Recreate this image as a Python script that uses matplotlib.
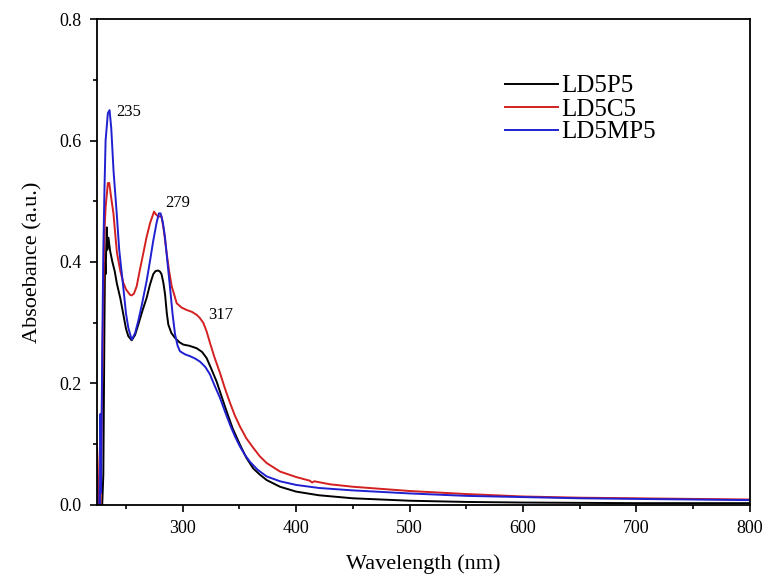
import numpy as np
import matplotlib.pyplot as plt
from matplotlib.ticker import MultipleLocator

# UV-vis absorbance
wl_p5 = [224.5, 229, 230, 231, 231.5, 232, 233, 233.5, 234.5, 236, 238, 240, 242, 245,
         247.6, 250, 252, 255, 258, 261, 264.5, 268.2, 271, 274, 276, 278.4, 280, 281.3,
         283, 284.4, 286, 287.3, 290, 293.2, 297, 300.5, 306, 312.3, 317, 321, 325, 329.9,
         334, 338.7, 344, 350.5, 356, 362.2, 368, 374, 385.8, 400, 420, 450, 500, 550,
         600, 700, 800]
ab_p5 = [0.0, 0.0, 0.05, 0.30, 0.40, 0.38, 0.457, 0.42, 0.44, 0.418, 0.40, 0.385, 0.364, 0.34,
         0.314, 0.29, 0.278, 0.271, 0.28, 0.298, 0.32, 0.341, 0.362, 0.380, 0.385, 0.386, 0.384, 0.380,
         0.365, 0.347, 0.315, 0.297, 0.283, 0.275, 0.268, 0.264, 0.262, 0.258, 0.252, 0.242, 0.225, 0.203,
         0.18, 0.154, 0.126, 0.099, 0.078, 0.060, 0.05, 0.041, 0.030, 0.022, 0.016, 0.011, 0.007, 0.005,
         0.004, 0.003, 0.003]

wl_c5 = [224.4, 225, 225.8, 227.5, 229, 230, 231, 232, 233, 234, 235.2, 237, 238.9, 242, 245,
         247.6, 250, 253.5, 255, 257, 259.4, 262, 265.3, 268, 271.2, 274.7, 276.5, 278.4, 281.3,
         283.5, 285.8, 288, 290.3, 294.7, 299, 303.5, 308, 312.3, 315, 318.1, 321, 324, 328,
         332.9, 337, 341.7, 346, 350.5, 356, 362.2, 368, 374, 385.8, 400, 412, 414, 416, 430,
         450, 500, 550, 600, 650, 700, 750, 800]
ab_c5 = [0.1, 0.07, 0.0, 0.0, 0.2, 0.35, 0.45, 0.49, 0.51, 0.53, 0.53, 0.505, 0.48, 0.415, 0.385,
         0.366, 0.355, 0.346, 0.345, 0.348, 0.36, 0.385, 0.415, 0.44, 0.464, 0.483, 0.478, 0.475, 0.475,
         0.45, 0.415, 0.385, 0.36, 0.332, 0.325, 0.321, 0.318, 0.313, 0.308, 0.30, 0.286, 0.267, 0.243,
         0.217, 0.193, 0.168, 0.147, 0.129, 0.11, 0.094, 0.08, 0.069, 0.055, 0.046, 0.04, 0.037, 0.039, 0.034,
         0.03, 0.023, 0.018, 0.014, 0.012, 0.011, 0.010, 0.009]

wl_mp5 = [224.5, 225, 227, 227.5, 228, 229, 230, 231, 232, 234, 235.5, 237, 239, 241.8, 244,
          247.6, 250, 252, 255, 258, 260.8, 264, 268.2, 271, 274, 277, 279, 280.5, 282.5, 284.4,
          286.5, 288.8, 291, 293.2, 295.5, 297.6, 302, 306.4, 311, 315.2, 320, 324, 328, 332.9,
          337, 341.7, 346, 350.5, 355, 359.3, 366, 374, 385.8, 400, 420, 450, 500, 550, 600,
          650, 700, 750, 800]
ab_mp5 = [0.06, 0.0, 0.0, 0.15, 0.02, 0.25, 0.42, 0.52, 0.6, 0.645, 0.65, 0.62, 0.55, 0.48, 0.42,
          0.358, 0.315, 0.292, 0.272, 0.283, 0.303, 0.33, 0.369, 0.40, 0.435, 0.465, 0.48, 0.48, 0.465, 0.44,
          0.40, 0.358, 0.315, 0.281, 0.262, 0.253, 0.248, 0.245, 0.241, 0.236, 0.227, 0.215, 0.197, 0.176,
          0.155, 0.132, 0.113, 0.096, 0.082, 0.071, 0.058, 0.047, 0.039, 0.033, 0.028, 0.024, 0.019, 0.015, 0.013,
          0.011, 0.010, 0.009, 0.008]

# peak labels: (text, x, y) where the label sits
peak_labels = [('235', 241.8, 0.647), ('279', 284.4, 0.497), ('317', 322.3, 0.313)]

plt.rcParams['font.family'] = 'Liberation Serif'
plt.rcParams['font.size'] = 12

fig = plt.figure(figsize=(7.66, 5.76), dpi=100)
ax = fig.add_axes([0.1266, 0.1233, 0.8524, 0.8437])

ax.plot(wl_p5, ab_p5, color='black', lw=1.4, label='LD5P5')
ax.plot(wl_c5, ab_c5, color='#d42020', lw=1.4, label='LD5C5')
ax.plot(wl_mp5, ab_mp5, color='#2020d0', lw=1.4, label='LD5MP5')

for txt, x, y in peak_labels:
    ax.text(x, y, txt, fontsize=12, va='center', ha='left')

ax.set_xlim(224.4, 800)
ax.set_ylim(0, 0.8)
ax.xaxis.set_major_locator(MultipleLocator(100))
ax.xaxis.set_minor_locator(MultipleLocator(50))
ax.yaxis.set_major_locator(MultipleLocator(0.2))
ax.yaxis.set_minor_locator(MultipleLocator(0.1))
ax.yaxis.set_major_formatter(plt.FormatStrFormatter('%.1f'))
ax.tick_params(which='major', direction='out', length=5, width=1.2, labelsize=13, pad=6)
ax.tick_params(which='minor', direction='out', length=3, width=1.2)
for s in ax.spines.values():
    s.set_linewidth(1.3)

ax.set_xlabel('Wavelength (nm)', fontsize=16, labelpad=12)
ax.set_ylabel('Absoebance (a.u.)', fontsize=16, labelpad=12)

ax.legend(loc='upper left', bbox_to_anchor=(505 / 766, 1 - 75 / 576),
          bbox_transform=fig.transFigure, frameon=False, fontsize=18, borderpad=0,
          borderaxespad=0, handlelength=2.1, handletextpad=0.15, labelspacing=0.02)

fig.savefig('out.png', dpi=100)
